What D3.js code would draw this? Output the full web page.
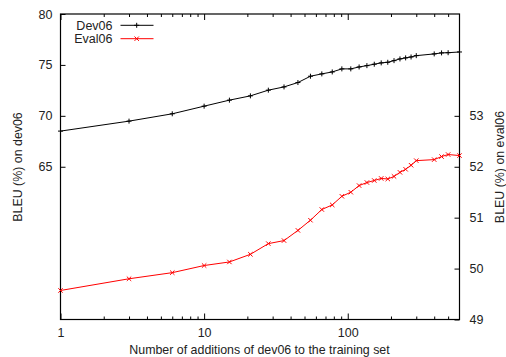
<!DOCTYPE html>
<html>
<head>
<meta charset="utf-8">
<script src="https://cdn.jsdelivr.net/npm/d3@7"></script>
<style>
  body { margin: 0; background: #fff; }
  text { font-family: "Liberation Sans", Arial, sans-serif; }
</style>
</head>
<body>
<div class="chart"></div>
<script>
// number of times dev06 was added to the training set
const additions = [1, 3, 6, 10, 15, 21, 28, 36, 45, 55, 66, 78, 91, 105, 120,
  136, 153, 171, 190, 210, 231, 253, 276, 300, 400, 450, 500, 600];
const dev06 = [68.5, 69.48, 70.2, 70.95, 71.54, 71.96, 72.52, 72.84, 73.27, 73.89,
  74.12, 74.31, 74.61, 74.61, 74.8, 74.93, 75.07, 75.2, 75.26, 75.42, 75.59,
  75.69, 75.78, 75.91, 76.08, 76.18, 76.2, 76.27];
const eval06 = [49.57, 49.8, 49.92, 50.06, 50.13, 50.28, 50.49, 50.55, 50.75, 50.95,
  51.16, 51.25, 51.42, 51.5, 51.63, 51.69, 51.73, 51.77, 51.76, 51.81, 51.89,
  51.95, 52.03, 52.12, 52.14, 52.2, 52.24, 52.22];

const xMajor = [1, 10, 100];
const xMinor = [2, 3, 4, 5, 6, 7, 8, 9, 20, 30, 40, 50, 60, 70, 80, 90, 200, 300, 400, 500];
const yLeftTicks = [65, 70, 75, 80];
const yRightTicks = [49, 50, 51, 52, 53];

const W = 506, H = 357;
const margin = { top: 14, right: 46.5, bottom: 37.5, left: 60.5 };
const width = W - margin.left - margin.right;
const height = H - margin.top - margin.bottom;

const svg = d3.select(".chart").append("svg")
  .attr("width", W).attr("height", H);
const g = svg.append("g")
  .attr("transform", `translate(${margin.left}, ${margin.top})`);

const x = d3.scaleLog().domain([1, 600]).range([0, width]);
const yL = d3.scaleLinear().domain([50, 80]).range([height, 0]);
const yR = d3.scaleLinear().domain([49, 55]).range([height, 0]);

function styleAxis(sel) {
  sel.select(".domain").remove();
  sel.selectAll("line").attr("stroke", "#000");
  sel.selectAll("text").attr("font-size", 12.5).attr("fill", "#222");
}

// bottom
g.append("g").attr("transform", `translate(0, ${height})`)
  .call(d3.axisBottom(x).tickValues(xMajor).tickFormat(d3.format("d")).tickSize(-6).tickPadding(9))
  .call(styleAxis);
g.append("g").attr("transform", `translate(0, ${height})`)
  .call(d3.axisBottom(x).tickValues(xMinor).tickFormat("").tickSize(-3))
  .call(styleAxis);
// top mirror
g.append("g")
  .call(d3.axisTop(x).tickValues(xMajor).tickFormat("").tickSize(-6))
  .call(styleAxis);
g.append("g")
  .call(d3.axisTop(x).tickValues(xMinor).tickFormat("").tickSize(-3))
  .call(styleAxis);
// left / right
g.append("g")
  .call(d3.axisLeft(yL).tickValues(yLeftTicks).tickFormat(d3.format("d")).tickSize(-5).tickPadding(8))
  .call(styleAxis);
g.append("g").attr("transform", `translate(${width}, 0)`)
  .call(d3.axisRight(yR).tickValues(yRightTicks).tickFormat(d3.format("d")).tickSize(-5).tickPadding(10))
  .call(styleAxis);

g.append("rect")
  .attr("width", width).attr("height", height)
  .attr("fill", "none").attr("stroke", "#000").attr("stroke-width", 1.2);

const devPts = additions.map((a, i) => [x(a), yL(dev06[i])]);
const evalPts = additions.map((a, i) => [x(a), yR(eval06[i])]);
const line = d3.line();

g.append("path").attr("d", line(devPts))
  .attr("fill", "none").attr("stroke", "#000").attr("stroke-width", 1);
g.append("path").attr("d", line(evalPts))
  .attr("fill", "none").attr("stroke", "#f00").attr("stroke-width", 1);

const plus = "M-2.5,0H2.5M0,-2.5V2.5";
const cross = "M-2.2,-2.2L2.2,2.2M-2.2,2.2L2.2,-2.2";

g.selectAll(".dev").data(devPts).join("path")
  .attr("transform", d => `translate(${d[0]},${d[1]})`)
  .attr("d", plus).attr("stroke", "#000").attr("stroke-width", 1);
g.selectAll(".ev").data(evalPts).join("path")
  .attr("transform", d => `translate(${d[0]},${d[1]})`)
  .attr("d", cross).attr("stroke", "#f00").attr("stroke-width", 1);

// legend
const legend = [
  { name: "Dev06", color: "#000", mark: plus, y: 25.3 },
  { name: "Eval06", color: "#f00", mark: cross, y: 38.7 }
];
legend.forEach(l => {
  svg.append("text").attr("x", 112.5).attr("y", l.y + 4.5)
    .attr("text-anchor", "end").attr("font-size", 12.5).attr("fill", "#222").text(l.name);
  svg.append("line").attr("x1", 120.5).attr("x2", 153.5)
    .attr("y1", l.y).attr("y2", l.y).attr("stroke", l.color);
  svg.append("path").attr("transform", `translate(136.7,${l.y})`)
    .attr("d", l.mark).attr("stroke", l.color);
});

// axis titles
svg.append("text").attr("x", 259.5).attr("y", 354)
  .attr("text-anchor", "middle").attr("font-size", 12.4).attr("fill", "#222")
  .text("Number of additions of dev06 to the training set");
svg.append("text").attr("transform", "translate(22,167) rotate(-90)")
  .attr("text-anchor", "middle").attr("font-size", 12.4).attr("fill", "#222")
  .text("BLEU (%) on dev06");
svg.append("text").attr("transform", "translate(504,167) rotate(-90)")
  .attr("text-anchor", "middle").attr("font-size", 12.4).attr("fill", "#222")
  .text("BLEU (%) on eval06");
</script>
</body>
</html>
